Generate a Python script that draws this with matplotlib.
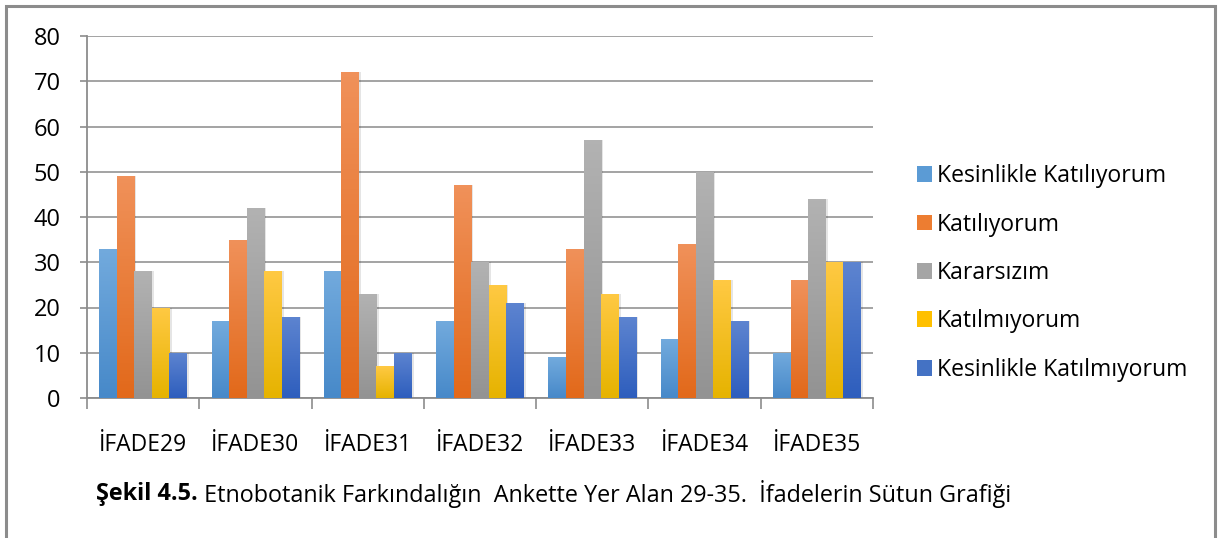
import numpy as np
import matplotlib
matplotlib.use("Agg")
import matplotlib.pyplot as plt
from matplotlib.colors import LinearSegmentedColormap
from matplotlib.patches import Rectangle, Patch

plt.rcParams["font.family"] = ["Open Sans", "DejaVu Sans"]

categories = ["İFADE29", "İFADE30", "İFADE31", "İFADE32", "İFADE33", "İFADE34", "İFADE35"]
series_names = ["Kesinlikle Katılıyorum", "Katılıyorum", "Kararsızım",
                "Katılmıyorum", "Kesinlikle Katılmıyorum"]
kesinlikle_katiliyorum = [33, 17, 28, 17, 9, 13, 10]
katiliyorum = [49, 35, 72, 47, 33, 34, 26]
kararsizim = [28, 42, 23, 30, 57, 50, 44]
katilmiyorum = [20, 28, 7, 25, 23, 26, 30]
kesinlikle_katilmiyorum = [10, 18, 10, 21, 18, 17, 30]
series_values = [kesinlikle_katiliyorum, katiliyorum, kararsizim,
                 katilmiyorum, kesinlikle_katilmiyorum]
y_ticks = [0, 10, 20, 30, 40, 50, 60, 70, 80]
caption_bold = "Şekil 4.5."
caption_rest = " Etnobotanik Farkındalığın  Ankette Yer Alan 29-35.  İfadelerin Sütun Grafiği"

# (top colour, bottom colour, legend colour)
gradients = [("#72aadd", "#4789c9", "#5b9bd5"),
             ("#f0915a", "#e2691a", "#ed7d31"),
             ("#b2b2b2", "#939393", "#a5a5a5"),
             ("#ffc943", "#e6b300", "#ffc000"),
             ("#5d84d0", "#2e5ebd", "#4472c4")]

W, H = 1218, 538
fig = plt.figure(figsize=(W / 100, H / 100), dpi=100)
ax = fig.add_axes([87 / W, 1 - 398 / H, (873 - 87) / W, (398 - 36) / H])

x = np.arange(len(categories))
bw = 0.156
for i, (vals, (top, bot, _)) in enumerate(zip(series_values, gradients)):
    cmap = LinearSegmentedColormap.from_list(f"g{i}", [bot, top])
    pos = x + (i - 2) * bw
    bars = ax.bar(pos, vals, width=bw, color="none", edgecolor="none", zorder=3)
    for b in bars:
        x0, w, h = b.get_x(), b.get_width(), b.get_height()
        # soft shadow to the right
        ax.add_patch(Rectangle((x0 + w * 0.12, 0), w, h, color="#000000",
                               alpha=0.10, lw=0, zorder=2))
        grad = np.linspace(0, 1, 64).reshape(-1, 1)
        im = ax.imshow(grad, cmap=cmap, aspect="auto", origin="lower",
                       extent=(x0, x0 + w, 0, h), zorder=3)
        im.set_clip_path(b)

ax.set_xlim(-0.5, len(categories) - 0.5)
ax.set_ylim(0, 80)
ax.set_yticks(y_ticks)
ax.set_xticks(np.arange(len(categories) + 1) - 0.5)
ax.set_xticklabels([])
ax.set_xticks(x, minor=True)
ax.set_xticklabels(categories, minor=True)
ax.tick_params(axis="x", which="major", length=8, color="#8c8c8c", width=1.2)
ax.tick_params(axis="x", which="minor", length=0, pad=25, labelsize=16.5)
ax.tick_params(axis="y", length=5, color="#8c8c8c", width=1.2, labelsize=17, pad=14)
ax.grid(axis="y", color="#8a8a8a", lw=1.1, zorder=0)
ax.set_axisbelow(True)
for s in ["top", "right"]:
    ax.spines[s].set_visible(False)
for s in ["left", "bottom"]:
    ax.spines[s].set_color("#8c8c8c")
    ax.spines[s].set_linewidth(1.3)

handles = [Patch(facecolor=g[2], edgecolor="none") for g in gradients]
fig.legend(handles, series_names, loc="center left", bbox_to_anchor=(896 / W, 1 - 273 / H),
           frameon=False, fontsize=16.6, labelspacing=1.06, handlelength=0.68,
           handleheight=0.68, handletextpad=0.2)

cap_y = 1 - 494 / H
bold_txt = fig.text(96 / W, cap_y, caption_bold, fontsize=16.8, fontweight="bold",
                    va="center", ha="left")
fig.canvas.draw()
bb = bold_txt.get_window_extent()
fig.text(bb.x1 / W, cap_y, caption_rest, fontsize=16.8, va="center", ha="left")

# outer frame (open at the bottom, as in the cropped source)
fig.add_artist(Rectangle((6 / W, -0.05), 1209 / W, 1 - 6 / H + 0.05,
                         transform=fig.transFigure, fill=False,
                         edgecolor="#8c8c8c", lw=2.2))

fig.savefig("out.png", dpi=100)
